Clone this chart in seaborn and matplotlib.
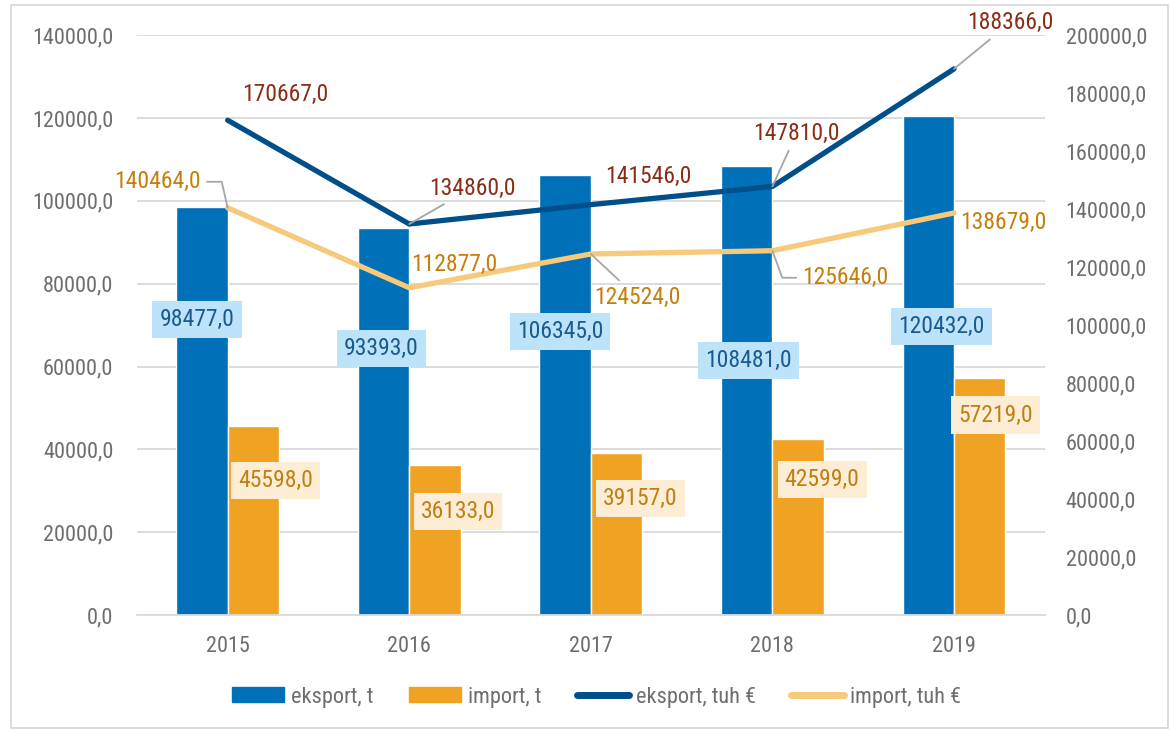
import matplotlib
matplotlib.use("Agg")
import matplotlib.pyplot as plt
import seaborn as sns
import pandas as pd
from matplotlib.patches import Patch, Rectangle
from matplotlib.lines import Line2D

years = ["2015", "2016", "2017", "2018", "2019"]
eksport_t = [98477.0, 93393.0, 106345.0, 108481.0, 120432.0]
import_t = [45598.0, 36133.0, 39157.0, 42599.0, 57219.0]
eksport_eur = [170667.0, 134860.0, 141546.0, 147810.0, 188366.0]
import_eur = [140464.0, 112877.0, 124524.0, 125646.0, 138679.0]

sns.set_theme(style="white")
plt.rcParams["font.family"] = ["Roboto Condensed", "Roboto", "DejaVu Sans"]

C_EXP = "#0070B8"
C_IMP = "#F0A323"
C_EXP_L = "#004F8A"
C_IMP_L = "#F7C97A"
GREY = "#6E6E6E"


def fmt(v):
    return f"{v:.1f}".replace(".", ",")


df = pd.DataFrame({"year": years * 2,
                   "value": eksport_t + import_t,
                   "series": ["eksport, t"] * 5 + ["import, t"] * 5})

fig = plt.figure(figsize=(11.7, 7.33), dpi=100)
ax = fig.add_axes([0.117, 0.161, 0.776, 0.791])
sns.barplot(data=df, x="year", y="value", hue="series",
            palette=[C_EXP, C_IMP], width=0.566, saturation=1,
            legend=False, ax=ax)
ax.set_ylim(0, 140000)
ax.set_xlim(-0.5, 4.5)
ax.set_yticks(range(0, 140001, 20000))
ax.set_yticklabels([fmt(v) for v in range(0, 140001, 20000)])
ax.set_xlabel("")
ax.set_ylabel("")
ax.grid(axis="y", color="#D9D9D9", linewidth=1.3)
ax.set_axisbelow(True)
for s in ["top", "left", "right"]:
    ax.spines[s].set_visible(False)
ax.spines["bottom"].set_color("#D9D9D9")
ax.spines["bottom"].set_linewidth(1.3)
ax.tick_params(axis="both", length=0, labelsize=16, labelcolor=GREY)
ax.tick_params(axis="y", pad=17)
ax.tick_params(axis="x", pad=15)

ax2 = ax.twinx()
xs = list(range(5))
sns.lineplot(x=xs, y=eksport_eur, color=C_EXP_L, linewidth=3.8, ax=ax2)
sns.lineplot(x=xs, y=import_eur, color=C_IMP_L, linewidth=3.8, ax=ax2)
ax2.set_ylim(0, 200000)
ax2.set_xlim(-0.5, 4.5)
ax2.set_yticks(range(0, 200001, 20000))
ax2.set_yticklabels([fmt(v) for v in range(0, 200001, 20000)])
ax2.set_ylabel("")
for s in ax2.spines.values():
    s.set_visible(False)
ax2.tick_params(axis="y", length=0, labelsize=16, labelcolor=GREY, pad=15)
ax2.grid(False)

# bar labels (offsets in pixels from bar top)
exp_off = [(-5, -112), (-2, -120), (-5, -157), (2, -195), (13, -210)]
imp_off = [(22, -54), (23, -46), (24, -46), (24, -41), (16, -37)]
for i in range(5):
    ax.annotate(fmt(eksport_t[i]), (i - 0.1415, eksport_t[i]), xytext=exp_off[i],
                textcoords="offset pixels", ha="center", va="center",
                fontsize=17, color="#1A5A8E",
                bbox=dict(boxstyle="square,pad=0.3", fc="#BDE3FA", ec="none"))
    ax.annotate(fmt(import_t[i]), (i + 0.1415, import_t[i]), xytext=imp_off[i],
                textcoords="offset pixels", ha="center", va="center",
                fontsize=17, color="#C07F14",
                bbox=dict(boxstyle="square,pad=0.3", fc="#FDEDD5", ec="none"))

# line labels with leader lines
exp_l_off = [(58, 26), (63, 36), (57, 28), (24, 53), (56, 46)]
exp_l_conn = [None, "arc3", None, "arc3", "arc3"]
imp_l_off = [(-70, 26), (45, 23), (46, -43), (73, -27), (49, -10)]
imp_l_conn = ["angle,angleA=0,angleB=103", None, "arc3", "angle,angleA=0,angleB=110", None]


def leader(conn):
    if conn is None:
        return None
    return dict(arrowstyle="-", color="#A6A6A6", lw=1.3, shrinkA=2, shrinkB=0,
                connectionstyle=conn)


for i in range(5):
    ax2.annotate(fmt(eksport_eur[i]), (i, eksport_eur[i]), xytext=exp_l_off[i],
                 textcoords="offset pixels", ha="center", va="center",
                 fontsize=17, color="#8B2C17", arrowprops=leader(exp_l_conn[i]))
    ax2.annotate(fmt(import_eur[i]), (i, import_eur[i]), xytext=imp_l_off[i],
                 textcoords="offset pixels", ha="center", va="center",
                 fontsize=17, color="#C47F0B", arrowprops=leader(imp_l_conn[i]))

handles = [Patch(color=C_EXP, label="eksport, t"),
           Patch(color=C_IMP, label="import, t"),
           Line2D([], [], color=C_EXP_L, lw=5, solid_capstyle="round", label="eksport, tuh €"),
           Line2D([], [], color=C_IMP_L, lw=5, solid_capstyle="round", label="import, tuh €")]
fig.legend(handles=handles, loc="center", bbox_to_anchor=(0.51, 0.049), ncol=4,
           frameon=False, fontsize=16, labelcolor=GREY, handlelength=2.35,
           handleheight=0.65, handletextpad=0.3, columnspacing=1.6)

fig.patches.append(Rectangle((0.009, 0.007), 0.989, 0.986, transform=fig.transFigure,
                             fill=False, ec="#D9D9D9", lw=1.3))

fig.savefig("out.png", dpi=100)
